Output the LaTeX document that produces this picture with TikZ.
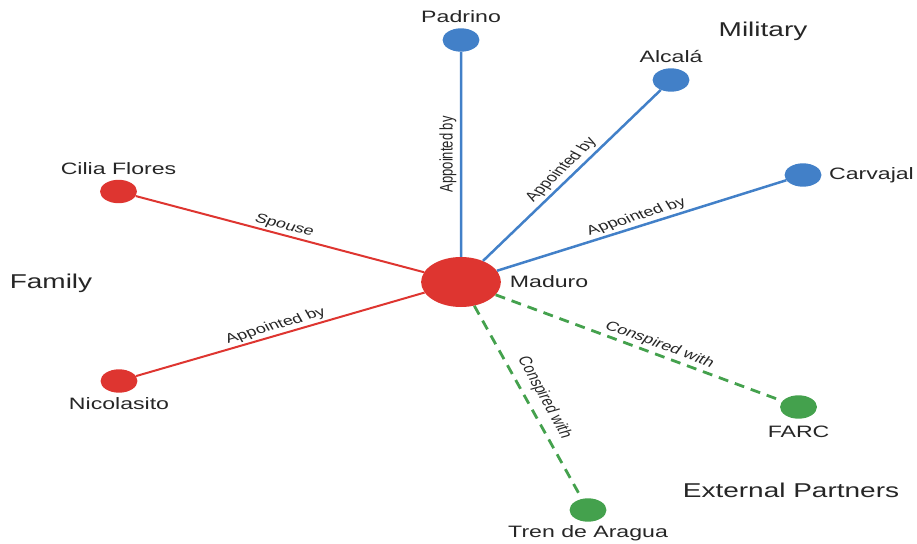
\documentclass[tikz,border=0pt]{standalone}
\usepackage{fontspec}
\setmainfont{Liberation Sans}
\usetikzlibrary{positioning,shapes.geometric}

\definecolor{militaryblue}{HTML}{4280C8}
\definecolor{familyred}{HTML}{DE3530}
\definecolor{partnergreen}{HTML}{44A14D}
\definecolor{labelgray}{HTML}{262626}

\begin{document}
\begin{tikzpicture}[
	x=0.7143pt, y=-1pt, xscale=1.4,
	every node/.append style={ transform shape },
	persondot/.style={ ellipse, fill, inner sep=0pt, minimum width=26.4pt, minimum height=23.4pt },
	centerdot/.style={ ellipse, fill=familyred, inner sep=0pt, minimum width=57pt, minimum height=50pt },
	personlabel/.style={ inner sep=0pt, text=labelgray, font=\fontsize{16.5}{18}\selectfont },
	grouplabel/.style={ inner sep=0pt, text=labelgray, font=\fontsize{20}{22}\selectfont },
	edgelabel/.style={ sloped, inner sep=2pt, text=labelgray, font=\fontsize{13}{15}\selectfont },
	appointedline/.style={ militaryblue, line width=2.5pt },
	familyline/.style={ familyred, line width=2pt },
	conspiredline/.style={ partnergreen, line width=2.8pt, dash pattern=on 10pt off 7pt }
]
	\useasboundingbox (0,0) rectangle (917,544);

	\node[centerdot] (maduro) at (461,282) {};
	\node[persondot, militaryblue] (padrino) at (461,40) {};
	\node[persondot, militaryblue] (alcala) at (671,80) {};
	\node[persondot, militaryblue] (carvajal) at (803,175) {};
	\node[persondot, familyred] (cilia) at (118.5,191.5) {};
	\node[persondot, familyred] (nicolasito) at (119,381) {};
	\node[persondot, partnergreen] (farc) at (798.5,407) {};
	\node[persondot, partnergreen] (tren) at (588,510) {};

	\node[personlabel, right=6pt of maduro] (madurolabel) {Maduro};
	\node[personlabel, above=5pt of padrino] (padrinolabel) {Padrino};
	\node[personlabel, above=5pt of alcala] (alcalalabel) {Alcalá};
	\node[personlabel, right=5pt of carvajal] (carvajallabel) {Carvajal};
	\node[personlabel, above=5pt of cilia] (cilialabel) {Cilia Flores};
	\node[personlabel, below=4pt of nicolasito] (nicolasitolabel) {Nicolasito};
	\node[personlabel, below=7pt of farc] (farclabel) {FARC};
	\node[personlabel, below=3pt of tren] (trenlabel) {Tren de Aragua};

	\node[grouplabel, anchor=base] (family) at (51,288) {Family};
	\node[grouplabel, anchor=base] (military) at (763,36) {Military};
	\node[grouplabel, anchor=base] (partners) at (791,497) {External Partners};

	\draw[appointedline] (maduro) -- node[edgelabel, allow upside down, above] {Appointed by} (padrino);
	\draw[appointedline] (maduro) -- node[edgelabel, above] {Appointed by} (alcala);
	\draw[appointedline] (maduro) -- node[edgelabel, above] {Appointed by} (carvajal);
	\draw[familyline] (cilia) -- node[edgelabel, above] {Spouse} (maduro);
	\draw[familyline] (nicolasito) -- node[edgelabel, above] {Appointed by} (maduro);
	\draw[conspiredline] (maduro) -- node[edgelabel, above, pos=0.55] {Conspired with} (farc);
	\draw[conspiredline] (maduro) -- node[edgelabel, above=3pt] {Conspired with} (tren);

\end{tikzpicture}
\end{document}
